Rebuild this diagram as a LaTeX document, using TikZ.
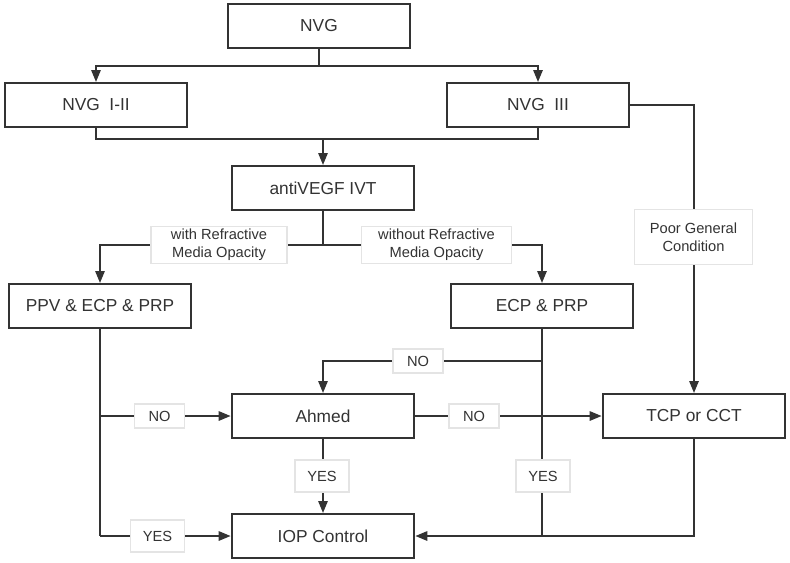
\documentclass[tikz,border=0pt]{standalone}
\usepackage{fontspec}
\setmainfont{Liberation Sans}
\usetikzlibrary{arrows.meta,calc}
\definecolor{FlowInk}{HTML}{333333}
\definecolor{TagRule}{HTML}{E4E4E4}

\begin{document}
\begin{tikzpicture}[x=0.75pt, y=-0.75pt,
  stage/.style={draw=FlowInk, line width=1.5pt, fill=white,
                minimum width=137pt, minimum height=33pt, inner sep=2pt,
                font=\fontsize{13}{15}\selectfont\color{FlowInk}},
  tag/.style={draw=TagRule, line width=0.8pt, fill=white, align=center,
              inner xsep=5pt, inner ysep=2pt,
              font=\fontsize{11}{13.5}\selectfont\color{FlowInk}},
  notag/.style={tag, minimum width=37.5pt, minimum height=18pt},
  yestag/.style={tag, minimum width=40.5pt, minimum height=24pt},
  link/.style={draw=FlowInk, line width=1.45pt},
  arr/.style={link, -{Triangle[length=9pt, width=7pt]}}]
  \useasboundingbox (0,0) rectangle (790,562);

  % boxes
  \node[stage] (nvg)   at (319,26)  {NVG};
  \node[stage] (nvgA)  at (96,105)  {NVG\ \ I-II};
  \node[stage] (nvgB)  at (538,105) {NVG\ \ III};
  \node[stage] (ivt)   at (323,188) {antiVEGF IVT};
  \node[stage] (ppv)   at (100,306) {PPV \& ECP \& PRP};
  \node[stage] (ecp)   at (542,306) {ECP \& PRP};
  \node[stage] (ahmed) at (323,416) {Ahmed};
  \node[stage] (tcp)   at (694,416) {TCP or CCT};
  \node[stage] (iop)   at (323,536) {IOP Control};

  % junctions
  \coordinate (split) at (319,66);
  \coordinate (merge) at (323,139);
  \coordinate (fork)  at (323,245);
  \coordinate (back)  at (542,361);

  % connectors
  \draw[link] (nvg.south) -- (split);
  \draw[arr] (split) -| (nvgA.north);
  \draw[arr] (split) -| (nvgB.north);
  \draw[link] (nvgA.south) |- (merge) -| (nvgB.south);
  \draw[arr] (merge) -- (ivt.north);
  \draw[link] (ivt.south) -- (fork);
  \draw[arr] (fork) -| (ppv.north);
  \draw[arr] (fork) -| (ecp.north);
  \draw[arr] (nvgB.east) -| (tcp.north);
  \draw[link] (ppv.south) -- (ppv.south |- iop.west);
  \draw[arr] (ppv.south |- ahmed.west) -- (ahmed.west);
  \draw[arr] (ppv.south |- iop.west) -- (iop.west);
  \draw[link] (ecp.south) -- (ecp.south |- iop.east);
  \draw[arr] (back) -| (ahmed.north);
  \draw[arr] (ahmed.east) -- (tcp.west);
  \draw[arr] (ahmed.south) -- (iop.north);
  \draw[arr] (tcp.south) |- (iop.east);

  % labels on the connectors
  \node[tag, minimum width=102pt, minimum height=28pt] (withMO) at (219,245)
        {with Refractive\\Media Opacity};
  \node[tag, minimum width=112pt, minimum height=28pt] (withoutMO) at (436.5,245)
        {without Refractive\\Media Opacity};
  \node[tag, minimum width=89pt, minimum height=41pt] (poor) at (693.5,237)
        {Poor General\\Condition};
  \node[notag]  (noA)  at (159.5,416) {NO};
  \node[yestag] (yesA) at (157.5,536) {YES};
  \node[notag]  (noB)  at (418,361)   {NO};
  \node[notag]  (noC)  at (474,416)   {NO};
  \node[yestag] (yesB) at (322,476)   {YES};
  \node[yestag] (yesC) at (543,476)   {YES};
\end{tikzpicture}
\end{document}
